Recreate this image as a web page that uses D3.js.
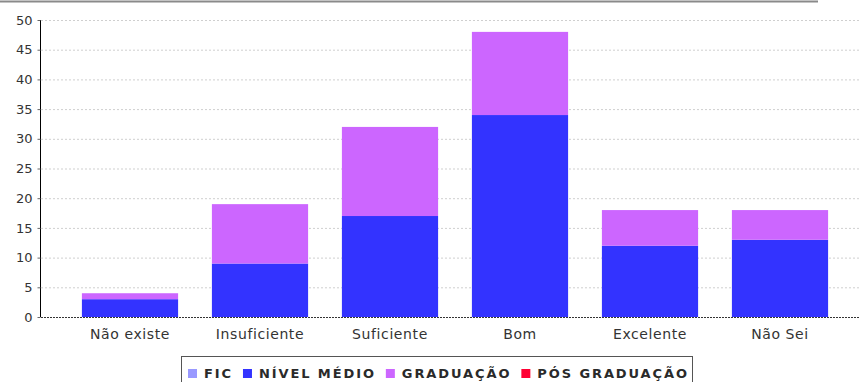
<!DOCTYPE html>
<html><head><meta charset="utf-8">
<script src="https://cdn.jsdelivr.net/npm/d3@7"></script>
<style>body{margin:0;background:#fff}svg{display:block;font-family:"DejaVu Sans",sans-serif}</style>
</head><body><svg id="c" width="859" height="382"></svg>
<script>
const categories = ["Não existe","Insuficiente","Suficiente","Bom","Excelente","Não Sei"];
const seriesNames = ["FIC","NÍVEL MÉDIO","GRADUAÇÃO","PÓS GRADUAÇÃO"];
const fic = [0,0,0,0,0,0];
const nivelMedio = [3,9,17,34,12,13];
const graduacao = [1,10,15,14,6,5];
const posGraduacao = [0,0,0,0,0,0];
const yTicks = [0,5,10,15,20,25,30,35,40,45,50];
const colors = ["#9999ff","#3333ff","#cc66ff","#ff0033"];

const svg = d3.select("#c");
const x = d3.scaleBand().domain(categories).range([65,845]).paddingInner(0.26).paddingOuter(0.13);
const y = d3.scaleLinear().domain([0,50]).range([317,20]);

// top rule
svg.append("line").attr("x1",0).attr("x2",818).attr("y1",1.5).attr("y2",1.5).attr("stroke","#8a8a8a").attr("stroke-width",2);

// gridlines
svg.append("g").selectAll("line").data(yTicks.filter(d=>d>0)).join("line")
  .attr("x1",41).attr("x2",859).attr("y1",d=>y(d)+0.5).attr("y2",d=>y(d)+0.5)
  .attr("stroke","#cfcfcf").attr("stroke-dasharray","2,2");

const data = categories.map((c,i)=>({cat:c, FIC:fic[i], "NÍVEL MÉDIO":nivelMedio[i], "GRADUAÇÃO":graduacao[i], "PÓS GRADUAÇÃO":posGraduacao[i]}));
const stack = d3.stack().keys(seriesNames)(data);
svg.append("g").selectAll("g").data(stack).join("g").attr("fill",(d,i)=>colors[i])
  .selectAll("rect").data(d=>d).join("rect")
  .attr("x",d=>x(d.data.cat)).attr("width",x.bandwidth())
  .attr("y",d=>y(d[1])).attr("height",d=>y(d[0])-y(d[1]));

// baseline
svg.append("line").attr("x1",41).attr("x2",859).attr("y1",317.5).attr("y2",317.5).attr("stroke","#333").attr("stroke-dasharray","2,1");

// y axis
const ya = svg.append("g").attr("transform","translate(40.5,0)")
  .call(d3.axisLeft(y).tickValues(yTicks).tickSize(3).tickPadding(5));
ya.select(".domain").attr("stroke","#000").attr("d","M-0,20V317");
ya.selectAll("text").attr("font-size","13px").attr("fill","#333").attr("font-family","DejaVu Sans");
ya.selectAll(".tick line").attr("stroke","#666");

// x labels
svg.append("g").selectAll("text").data(categories).join("text")
  .attr("x",d=>x(d)+x.bandwidth()/2).attr("y",339).attr("text-anchor","middle")
  .attr("font-size","14px").attr("letter-spacing","0.6px").attr("fill","#333").text(d=>d);

// legend
const lg = svg.append("g");
lg.append("rect").attr("x",181.5).attr("y",356.5).attr("width",511).attr("height",40).attr("fill","#fff").attr("stroke","#555");
let lx = 188;
seriesNames.forEach((s,i)=>{
  lg.append("rect").attr("x",lx).attr("y",369).attr("width",9).attr("height",9).attr("fill",colors[i]);
  const t = lg.append("text").attr("x",lx+16).attr("y",378).attr("font-size","13px").attr("font-weight","bold")
    .attr("letter-spacing","1.9px").attr("fill","#2a2a2a").text(s);
  lx += 16 + t.node().getComputedTextLength() + 10;
});
</script></body></html>
